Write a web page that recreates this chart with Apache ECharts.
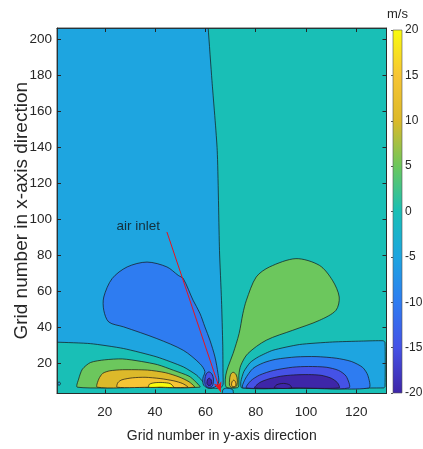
<!DOCTYPE html>
<html>
<head>
<meta charset="utf-8">
<script src="https://cdn.jsdelivr.net/npm/echarts@6/dist/echarts.min.js"></script>
<style>html,body{margin:0;padding:0;background:#fff}#c{width:423px;height:449px}</style>
</head>
<body>
<div id="c"></div>
<script>
// ---------- axis ticks ----------
const xTicks = [20, 40, 60, 80, 100, 120];
const yTicks = [20, 40, 60, 80, 100, 120, 140, 160, 180, 200];
const levels = [-20, -15, -10, -5, 0, 5, 10, 15, 20];
const levelColors = ['#3E26A8', '#4552E6', '#2E7CF1', '#1EA5E0', '#19BFB6', '#6CC75D', '#DCB92A', '#F7C535', '#F9FB0E'];

// ---------- contour regions (data coords: [grid y-dir, grid x-dir]) ----------
const contourBackground = [[-5, -5], [140, -5], [140, 215], [-5, 215]];
const contourLeftMinus5 = [[-3, 212], [60.8, 212], [61.1, 206], [62.6, 176.9], [64.7, 138], [65.6, 82.5], [66.4, 54.8], [66.9, 29.8], [67.0, 14], [67.0, 8], [66, 6.0], [63.5, 5.9], [61, 6.1], [59.9, 7.5], [59.1, 9.4], [56.5, 13.2], [51.2, 17.8], [40.7, 23.3], [27.4, 28.0], [14.3, 30.7], [1, 31.5], [-3, 31.6]];
const contourLeftMinus10 = [[36.8, 76.0], [28.9, 73.3], [22.9, 66.8], [19.6, 56.6], [19.6, 49.2], [21.6, 42.7], [27.5, 40.0], [40.7, 33.5], [51.2, 27.0], [57.8, 19.6], [59.8, 15.2], [59.0, 11.5], [59.3, 7.6], [61.5, 5.9], [64.2, 7.0], [65.3, 9.4], [65.0, 14.1], [63.8, 23.3], [61.8, 32.6], [59.8, 40.0], [57.8, 47.6], [55.1, 54.8], [51.2, 66.8], [49.2, 68.6], [44.7, 73.3]];
const contourLeftMinus15 = [[61.4, 15.0], [62.6, 13.8], [63.2, 11], [63.0, 8], [62.3, 6.6], [60.8, 6.6], [59.9, 8], [59.8, 11], [60.3, 13.8]];
const contourLeftMinus20 = [[61.5, 11.5], [62.3, 10.6], [62.5, 8.6], [62.0, 7.6], [61.0, 7.6], [60.6, 8.6], [60.8, 10.6]];
const contourLeftPlus5 = [[9.1, 6.5], [9.6, 11], [11.1, 16.5], [14.3, 20.2], [20, 21.7], [27, 22.2], [34.5, 20.8], [41, 19], [47.3, 15.9], [53.5, 12.6], [56.2, 9.4], [57.8, 6.5], [33, 6.5]];
const contourLeftPlus10 = [[17.0, 6.5], [17.6, 11], [19.2, 14.2], [22, 15.6], [27, 16.2], [37, 16], [44, 14.6], [49.5, 12.2], [53.5, 9.5], [55.6, 6.5], [36, 6.5]];
const contourLeftPlus15 = [[24.9, 6.5], [25.2, 9], [26.8, 10.6], [31, 11.7], [36, 12], [42, 11.3], [47.5, 10], [51, 8.5], [53, 6.5], [39, 6.5]];
const contourLeftPlus20 = [[37.4, 6.5], [37.8, 8.2], [40, 9], [43, 9.1], [46, 8.5], [47.3, 6.5], [42, 6.5]];
const contourRightPlus5 = [[96.0, 77.9], [105.3, 74.2], [110.5, 65.9], [113.2, 56.6], [111.9, 49.2], [105.3, 43.6], [94.7, 38.1], [84.2, 32.6], [76.9, 25.2], [74.1, 18.7], [73.3, 13.2], [73.3, 8.2], [72.9, 6.3], [68.5, 6.3], [67.9, 8.7], [68.1, 13.2], [69.0, 17.8], [71.0, 25.2], [73.4, 36.3], [74.9, 47.4], [76.3, 54.8], [80.2, 67.7], [85.5, 73.3]];
const contourRightPlus10 = [[71.0, 14.8], [72.2, 13.5], [72.7, 10.5], [72.5, 7.5], [71.8, 6.5], [70.2, 6.5], [69.6, 7.5], [69.6, 10.5], [70, 13.5]];
const contourRightPlus15 = [[71.3, 10.4], [72.0, 9.3], [72.1, 7.5], [71.6, 6.9], [70.8, 6.9], [70.4, 7.8], [70.6, 9.5]];
const contourRightMinus5 = [[74.4, 6.1], [74.1, 9.6], [75.3, 15.2], [77.8, 20.2], [81, 23.3], [86.8, 27.0], [97.4, 30.2], [110.5, 31.6], [122, 32.1], [130.6, 32.3], [131.4, 31.4], [131.4, 6.8], [130.8, 6.1], [100, 6.1]];
const contourRightMinus10 = [[74.9, 6.1], [75.8, 11], [78.9, 16.9], [83, 20], [88, 22], [96, 23.3], [104, 23.5], [112, 22.6], [118, 20.8], [122.5, 17.5], [124.6, 13], [125, 6.1], [100, 6.1]];
const contourRightMinus15 = [[76.3, 6.1], [78, 10], [81.5, 13.2], [87, 15.8], [94.7, 17.6], [101, 18], [108, 17.6], [113, 15.8], [116, 12.5], [117.1, 6.1], [97, 6.1]];
const contourRightMinus20 = [[79.6, 6.1], [81.5, 9], [85, 11], [90, 12.6], [95, 13.3], [101, 13.5], [106, 13.1], [110, 11.5], [112.5, 9], [113.2, 6.1], [96, 6.1]];
const contourRightMinus20Inner = [[87.5, 6.1], [88.3, 7.8], [91, 8.6], [93.5, 7.8], [94.2, 6.1]];
const contourInletMinus5 = [[66.9, -2], [66.9, 5], [68, 5.9], [70, 5.7], [71, 4.8], [71, -2]];
const contourEdgeMinus5 = [[1.3, 8.5], [1.8, 9.4], [2.4, 8.5], [1.8, 7.6]];

// annotation
const annotationText = [{ name: 'air inlet', value: [33.3, 95.8] }];
const annotationArrow = [[44.7, 92.7], [66.1, 3.8]];

// colorbar range
const colorbarRange = [-20, 20];

const regions = [
  { level: 0, pts: contourBackground, line: false, smooth: 0 },
  { level: -5, pts: contourLeftMinus5, smooth: 0.2 },
  { level: -10, pts: contourLeftMinus10, smooth: 0.3 },
  { level: -15, pts: contourLeftMinus15, smooth: 0.3 },
  { level: -20, pts: contourLeftMinus20, smooth: 0.3 },
  { level: 5, pts: contourLeftPlus5, smooth: 0.25 },
  { level: 10, pts: contourLeftPlus10, smooth: 0.25 },
  { level: 15, pts: contourLeftPlus15, smooth: 0.25 },
  { level: 20, pts: contourLeftPlus20, smooth: 0.25 },
  { level: 5, pts: contourRightPlus5, smooth: 0.3 },
  { level: 10, pts: contourRightPlus10, smooth: 0.3 },
  { level: 15, pts: contourRightPlus15, smooth: 0.3 },
  { level: -5, pts: contourRightMinus5, smooth: 0.2 },
  { level: -10, pts: contourRightMinus10, smooth: 0.25 },
  { level: -15, pts: contourRightMinus15, smooth: 0.25 },
  { level: -20, pts: contourRightMinus20, smooth: 0.25 },
  { level: -20, pts: contourRightMinus20Inner, smooth: 0.3 },
  { level: -5, pts: contourInletMinus5, smooth: 0.2 },
  { level: -5, pts: contourEdgeMinus5, smooth: 0.5 }
];

function levelColor(L) { return levelColors[levels.indexOf(L)]; }

const FONT = "'Liberation Sans', Arial, Helvetica, sans-serif";
const AX = '#262626';

const chart = echarts.init(document.getElementById('c'), null, { renderer: 'canvas' });

const option = {
  animation: false,
  backgroundColor: '#ffffff',
  textStyle: { fontFamily: FONT },
  grid: [
    { left: 57, top: 28, width: 329.5, height: 365.5, show: true, borderColor: AX, borderWidth: 0.8, backgroundColor: 'transparent', z: 10, containLabel: false, outerBoundsMode: 'none' },
    { left: 393, top: 30, width: 9, height: 363, show: true, borderColor: '#555', borderWidth: 0.6, backgroundColor: 'transparent', z: 10, containLabel: false, outerBoundsMode: 'none' }
  ],
  xAxis: [
    {
      type: 'value', gridIndex: 0, min: 1, max: 132, position: 'bottom', z: 10,
      axisLine: { show: true, lineStyle: { color: AX, width: 0.8 } },
      axisTick: { show: true, inside: true, length: 4, customValues: xTicks, lineStyle: { color: AX } },
      axisLabel: { show: true, customValues: xTicks, margin: 12, fontSize: 13.5, color: AX, fontFamily: FONT },
      splitLine: { show: false },
      name: 'Grid number in y-axis direction', nameLocation: 'middle', nameGap: 36, nameMoveOverlap: false,
      nameTextStyle: { fontSize: 14, color: AX, fontFamily: FONT }
    },
    {
      type: 'value', gridIndex: 0, min: 1, max: 132, position: 'top', z: 10,
      axisLine: { show: true, lineStyle: { color: AX, width: 0.8 } },
      axisTick: { show: true, inside: true, length: 4, customValues: xTicks, lineStyle: { color: AX } },
      axisLabel: { show: false }, splitLine: { show: false }
    },
    { type: 'value', gridIndex: 1, min: 0, max: 1, show: false }
  ],
  yAxis: [
    {
      type: 'value', gridIndex: 0, min: 3, max: 206, position: 'left', z: 10,
      axisLine: { show: true, lineStyle: { color: AX, width: 0.8 } },
      axisTick: { show: true, inside: true, length: 4, customValues: yTicks, lineStyle: { color: AX } },
      axisLabel: { show: true, customValues: yTicks, margin: 5, fontSize: 13.5, color: AX, fontFamily: FONT },
      splitLine: { show: false },
      name: 'Grid number in x-axis direction', nameLocation: 'middle', nameGap: 26, nameMoveOverlap: false,
      nameTextStyle: { fontSize: 19, color: AX, fontFamily: FONT }
    },
    {
      type: 'value', gridIndex: 0, min: 3, max: 206, position: 'right', z: 10,
      axisLine: { show: true, lineStyle: { color: AX, width: 0.8 } },
      axisTick: { show: true, inside: true, length: 4, customValues: yTicks, lineStyle: { color: AX } },
      axisLabel: { show: false }, splitLine: { show: false }
    },
    {
      type: 'value', gridIndex: 1, min: colorbarRange[0], max: colorbarRange[1], interval: 5, position: 'right', z: 10,
      axisLine: { show: false },
      axisTick: { show: true, inside: true, length: 2, lineStyle: { color: '#555' } },
      axisLabel: { show: true, margin: 3, fontSize: 12, color: AX, fontFamily: FONT },
      splitLine: { show: false }
    }
  ],
  graphic: [
    { type: 'text', left: 387, top: 8, style: { text: 'm/s', font: '13px ' + FONT, fill: AX } }
  ],
  series: [
    {
      type: 'custom', name: 'contour', xAxisIndex: 0, yAxisIndex: 0, clip: true, silent: true,
      data: regions.map((r, i) => [i + 1, r.level]),
      renderItem: function (params, api) {
        const r = regions[params.dataIndex];
        const pts = r.pts.map(p => api.coord(p));
        return {
          type: 'polygon',
          shape: { points: pts, smooth: r.smooth },
          style: { fill: levelColor(r.level), stroke: r.line === false ? null : '#151515', lineWidth: 0.7 }
        };
      },
      z: 2
    },
    {
      type: 'scatter', name: 'annotation', xAxisIndex: 0, yAxisIndex: 0, silent: true,
      symbolSize: 0, itemStyle: { color: 'rgba(0,0,0,0)' },
      data: annotationText,
      label: { show: true, position: 'inside', formatter: '{b}', fontSize: 13.5, color: '#111', fontFamily: FONT },
      markLine: {
        silent: true, symbol: ['none', 'arrow'], symbolSize: [6, 10],
        lineStyle: { color: '#E8141E', width: 1, type: 'solid' },
        label: { show: false },
        data: [[{ coord: annotationArrow[0] }, { coord: annotationArrow[1] }]]
      },
      z: 5
    },
    {
      type: 'custom', name: 'colorbar', xAxisIndex: 2, yAxisIndex: 2, silent: true,
      data: [[0.5, 0]],
      renderItem: function (params, api) {
        const p0 = api.coord([0, colorbarRange[1]]);
        const p1 = api.coord([1, colorbarRange[0]]);
        const stops = levelColors.map((c, i) => ({ offset: i / (levelColors.length - 1), color: c }));
        return {
          type: 'rect',
          shape: { x: p0[0], y: p0[1], width: p1[0] - p0[0], height: p1[1] - p0[1] },
          style: { fill: new echarts.graphic.LinearGradient(0, 1, 0, 0, stops) }
        };
      }
    }
  ]
};
chart.setOption(option);
</script>
</body>
</html>
